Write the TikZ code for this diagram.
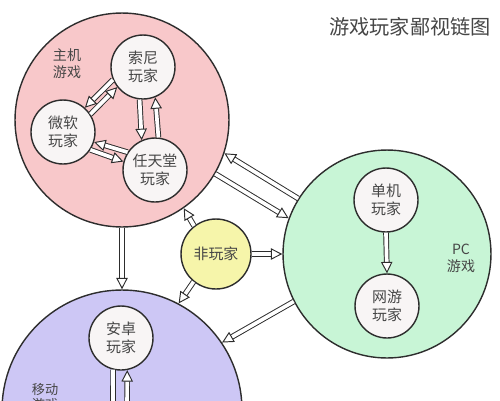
\documentclass[tikz,border=0pt]{standalone}
\usepackage{fontspec}
\setmainfont{Noto Sans CJK SC}
\usetikzlibrary{arrows.meta}

\definecolor{consolepink}{RGB}{248,200,202}
\definecolor{pcgreen}{RGB}{200,245,214}
\definecolor{mobilepurple}{RGB}{205,199,245}
\definecolor{nonyellow}{RGB}{246,245,170}
\definecolor{playerwhite}{RGB}{248,245,245}
\definecolor{edgegray}{RGB}{45,45,45}
\definecolor{textgray}{RGB}{70,70,70}

\begin{document}
\begin{tikzpicture}[x=0.02cm, y=-0.02cm,
    group/.style={circle, draw=edgegray, line width=0.8pt, inner sep=0pt},
    player/.style={circle, draw=edgegray, line width=0.8pt, fill=playerwhite,
        minimum size=1.28cm, inner sep=0pt, align=center,
        font=\fontsize{8.5}{10.5}\selectfont, text=textgray},
    grouplabel/.style={font=\fontsize{8}{9.5}\selectfont, text=textgray, align=center},
    link/.style={draw=edgegray, line width=0.55pt, double=white, double distance=2.1pt,
        -{Triangle[open, length=6.5pt, width=6.5pt, fill=white]}}]

    \useasboundingbox (0,0) rectangle (500,400);
    \clip (0,0) rectangle (500,400);

    % Platform circles
    \node[group, fill=consolepink, minimum size=4.28cm] (console) at (122,120) {};
    \node[group, fill=pcgreen, minimum size=4.16cm] (pc) at (387,254) {};
    \node[group, fill=mobilepurple, minimum size=4.8cm] (mobile) at (122,410) {};
    \node[group, fill=nonyellow, minimum size=1.4cm, font=\fontsize{8.5}{10.5}\selectfont,
        text=textgray] (nonplayer) at (216,254) {非玩家};

    % Platform labels
    \node[grouplabel] (consolelabel) at (67,64) {主机\\游戏};
    \node[grouplabel] (pclabel) at (461,258) {PC\\游戏};
    \node[grouplabel, font=\fontsize{7.5}{9}\selectfont] (mobilelabel) at (45,397) {移动\\游戏};

    % Player groups
    \node[player] (sony) at (143,67) {索尼\\玩家};
    \node[player] (microsoft) at (63,132) {微软\\玩家};
    \node[player] (nintendo) at (155,170) {任天堂\\玩家};
    \node[player] (single) at (386,200) {单机\\玩家};
    \node[player] (online) at (387,306) {网游\\玩家};
    \node[player] (android) at (121,338) {安卓\\玩家};

    % Title
    \node[font=\fontsize{11.5}{13}\selectfont, text=textgray] (title) at (410,27) {游戏玩家鄙视链图};

    % Inside the console circle
    \draw[link] (sony.203) -- (microsoft.48);
    \draw[link] (microsoft.33) -- (sony.218);
    \draw[link] (sony.-96) -- (nintendo.114);
    \draw[link] (nintendo.84) -- (sony.-68);
    \draw[link] (nintendo.147) -- (microsoft.-18);
    \draw[link] (microsoft.-33) -- (nintendo.165);

    % Between platforms
    \draw[link] (pc.148) -- (console.-18);
    \draw[link] (console.-30) -- (pc.160);
    \draw[link] (console.-90) -- (mobile.90);
    \draw[link] (pc.207) -- (mobile.34);

    % Non-players
    \draw[link] (nonplayer.128) -- (console.-55);
    \draw[link] (nonplayer.231) -- (mobile.62);
    \draw[link] (nonplayer.0) -- (pc.180);

    % Inside the PC circle
    \draw[link] (single.south) -- (online.north);

    % Below the android players
    \coordinate (belowleft) at (113,415);
    \coordinate (belowright) at (127,415);
    \draw[link] (android.-104) -- (belowleft);
    \draw[link] (belowright) -- (android.-79);
\end{tikzpicture}
\end{document}
